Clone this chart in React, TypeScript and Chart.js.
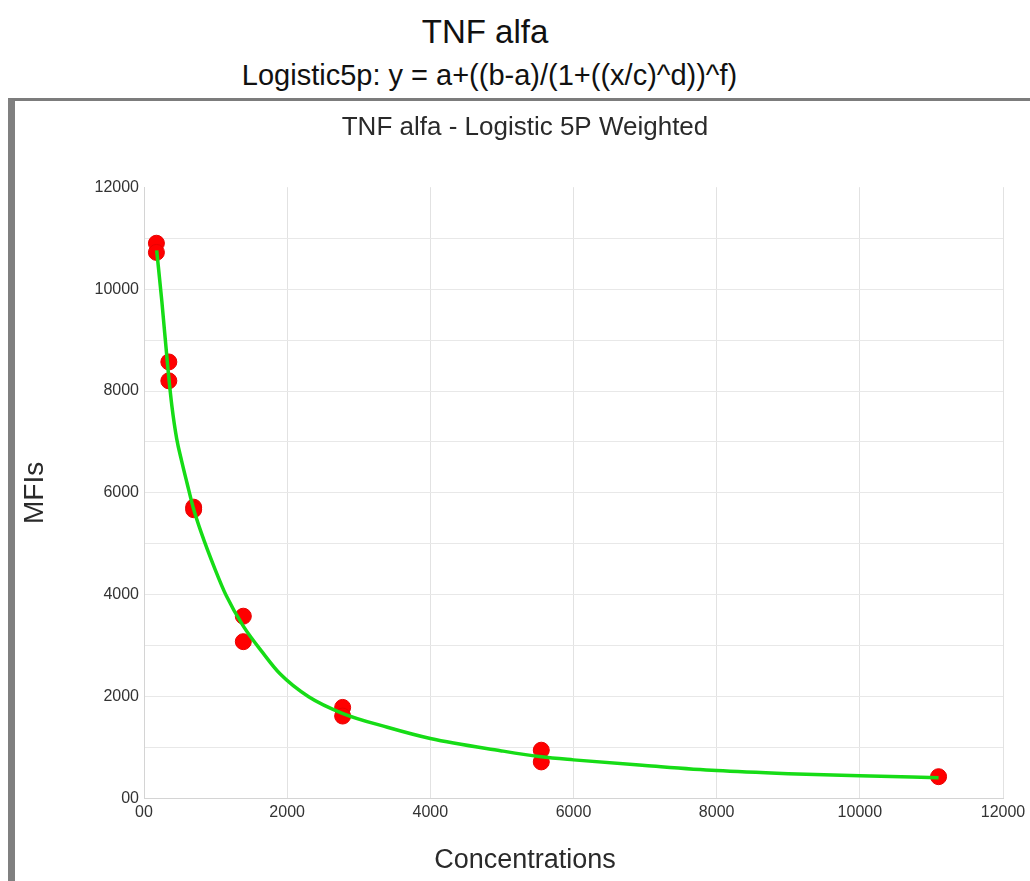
import React, { useEffect, useRef } from 'react';
import { Chart, registerables } from 'chart.js';

Chart.register(...registerables);

const STD_CONCENTRATIONS = [173.4, 173.4, 346.9, 346.9, 693.75, 693.75, 1387.5, 1387.5, 2775, 2775, 5550, 5550, 11100];
const STD_MFIS = [10900, 10720, 8570, 8200, 5720, 5670, 3580, 3080, 1790, 1620, 950, 720, 430];

// Fitted curve, points
const CURVE_CONCENTRATIONS = [177, 250, 335, 390, 457, 527, 600, 685, 800, 993, 1150, 1385, 1650, 1900, 2300, 2780, 3400, 4000, 4980, 5550, 6000, 7000, 8000, 9000, 10000, 11100];
const CURVE_MFIS = [10760, 9750, 8430, 7700, 7060, 6620, 6200, 5725, 5220, 4500, 3980, 3390, 2880, 2450, 2000, 1670, 1400, 1180, 940, 820, 760, 650, 550, 490, 450, 410];

const X_TICK_VALUES = [0, 2000, 4000, 6000, 8000, 10000, 12000];
const X_TICK_LABELS = ['00', '2000', '4000', '6000', '8000', '10000', '12000'];
const Y_TICK_VALUES = [0, 2000, 4000, 6000, 8000, 10000, 12000];
const Y_TICK_LABELS = ['00', '2000', '4000', '6000', '8000', '10000', '12000'];

const TITLE = 'TNF alfa';
const SUBTITLE = 'Logistic5p: y = a+((b-a)/(1+((x/c)^d))^f)';
const CHART_TITLE = 'TNF alfa - Logistic 5P Weighted';
const X_TITLE = 'Concentrations';
const Y_TITLE = 'MFIs';

const FONT = "'Liberation Sans', Arial, sans-serif";

export default function App() {
  const ref = useRef<HTMLCanvasElement | null>(null);

  useEffect(() => {
    if (!ref.current) return;
    const chart = new Chart(ref.current, {
      type: 'scatter',
      data: {
        datasets: [
          {
            label: 'Fit',
            data: CURVE_CONCENTRATIONS.map((x, i) => ({ x, y: CURVE_MFIS[i] })),
            showLine: true,
            borderColor: '#16dc16',
            backgroundColor: '#16dc16',
            borderWidth: 3.5,
            pointRadius: 0,
            cubicInterpolationMode: 'monotone',
            order: 0,
          } as any,
          {
            label: 'Standards',
            data: STD_CONCENTRATIONS.map((x, i) => ({ x, y: STD_MFIS[i] })),
            backgroundColor: '#ff0000',
            borderColor: '#e80000',
            borderWidth: 1,
            pointRadius: 8,
            order: 1,
          },
        ],
      },
      options: {
        animation: false,
        responsive: false,
        maintainAspectRatio: false,
        layout: { padding: { left: 32, right: 27, top: 0, bottom: 0 } },
        plugins: {
          legend: { display: false },
          tooltip: { enabled: false },
          title: {
            display: true,
            text: CHART_TITLE,
            color: '#2a2a2a',
            font: { family: FONT, size: 26, weight: 'normal' },
            padding: { top: 11, bottom: 44 },
          },
          subtitle: {
            display: true,
            position: 'bottom',
            text: X_TITLE,
            color: '#2a2a2a',
            font: { family: FONT, size: 27, weight: 'normal' },
            padding: { top: 0, bottom: 4 },
          },
        },
        scales: {
          x: {
            type: 'linear',
            min: 0,
            max: 12000,
            afterBuildTicks: (s: any) => {
              s.ticks = X_TICK_VALUES.map((v) => ({ value: v }));
            },
            afterFit: (s: any) => {
              s.height = 46;
            },
            ticks: {
              color: '#333',
              font: { family: FONT, size: 16 },
              padding: 4,
              maxRotation: 0,
              callback: (v: any) => {
                const i = X_TICK_VALUES.indexOf(Number(v));
                return i >= 0 ? X_TICK_LABELS[i] : '';
              },
            },
            grid: { color: '#e2e2e2', drawTicks: false, lineWidth: 1 },
            border: { display: true, color: '#d4d4d4', width: 1 },
          },
          y: {
            type: 'linear',
            min: 0,
            max: 12000,
            ticks: {
              stepSize: 1000,
              color: '#333',
              font: { family: FONT, size: 16 },
              padding: 5,
              callback: (v: any) => {
                const i = Y_TICK_VALUES.indexOf(Number(v));
                return i >= 0 ? Y_TICK_LABELS[i] : '';
              },
            },
            afterFit: (s: any) => {
              s.width = 97;
            },
            grid: {
              color: (c: any) => (c.tick && c.tick.value === 12000 ? 'rgba(0,0,0,0)' : '#e8e8e8'),
              drawTicks: false,
              lineWidth: 1,
            },
            border: { display: true, color: '#d4d4d4', width: 1 },
            title: {
              display: true,
              text: Y_TITLE,
              color: '#2a2a2a',
              font: { family: FONT, size: 28, weight: 'normal' },
              padding: { top: -29, bottom: 0 },
            },
          },
        },
      },
    });
    return () => chart.destroy();
  }, []);

  return (
    <div style={{ position: 'absolute', left: 0, top: 0, width: 1030, height: 881, overflow: 'hidden', background: '#fff' }}>
      <style>{'html,body{margin:0;padding:0;overflow:hidden;background:#fff}'}</style>
      <div
        style={{
          position: 'absolute',
          left: 0,
          top: 12,
          width: 970,
          textAlign: 'center',
          fontFamily: FONT,
          fontSize: 33,
          lineHeight: '40px',
          color: '#111',
          whiteSpace: 'nowrap',
        }}
      >
        {TITLE}
      </div>
      <div
        style={{
          position: 'absolute',
          left: 0,
          top: 58,
          width: 979,
          textAlign: 'center',
          fontFamily: FONT,
          fontSize: 29,
          lineHeight: '34px',
          color: '#111',
          whiteSpace: 'nowrap',
        }}
      >
        {SUBTITLE}
      </div>
      <div
        style={{
          position: 'absolute',
          left: 8,
          top: 98,
          width: 1022,
          height: 783,
          boxSizing: 'border-box',
          borderTop: '3px solid #7c7c7c',
          borderLeft: '7px solid #808080',
        }}
      />
      <canvas
        ref={ref}
        width={1015}
        height={780}
        style={{ position: 'absolute', left: 15, top: 101, width: 1015, height: 780 }}
      />
    </div>
  );
}
